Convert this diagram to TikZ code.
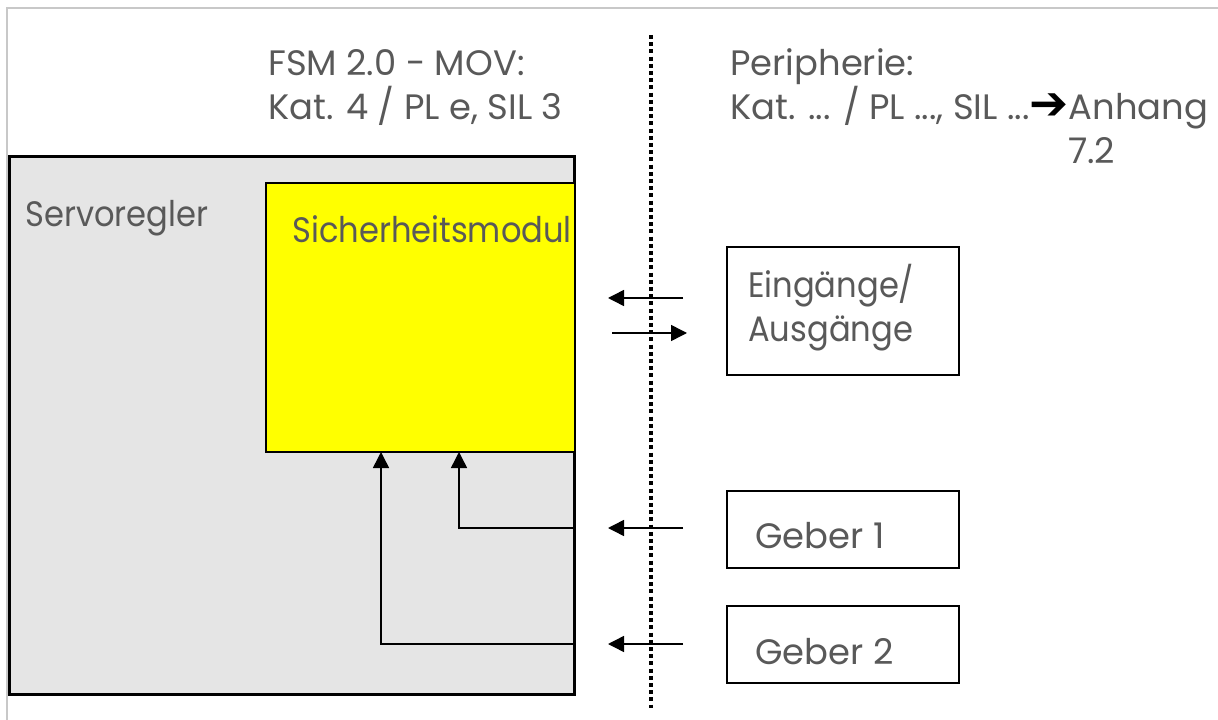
\documentclass[tikz,border=0pt]{standalone}
\usepackage{fontspec}
\setmainfont{Poppins}
\newfontfamily\narrowfont{Poppins}[FakeStretch=0.91]
\newfontfamily\symfont{DejaVu Sans}
\usetikzlibrary{arrows.meta}
\definecolor{txt}{HTML}{595959}
\definecolor{servofill}{HTML}{E5E5E5}
\definecolor{framegray}{HTML}{C8C8C8}
\definecolor{safeyellow}{HTML}{FFFF00}
\tikzset{
  lbl/.style={anchor=base west, inner sep=0pt, text=txt, font=\fontsize{26.5pt}{33pt}\selectfont},
  nlbl/.style={lbl, font=\fontsize{26.5pt}{33pt}\narrowfont},
  conn/.style={line width=1.1pt, -{Triangle[length=12pt,width=12pt]}},
  perbox/.style={draw, line width=1.5pt, fill=white},
}
\begin{document}
\begin{tikzpicture}[x=0.75pt,y=-0.75pt]
\useasboundingbox (0,0) rectangle (1218,720);
% outer frame (top and left visible)
\draw[framegray, line width=1.5pt] (6.5,720) -- (6.5,8) -- (1218,8);

% Servoregler box
\fill[servofill] (9.5,157) rectangle (574,694.5);
\draw[line width=2.25pt] (9.5,157) rectangle (574,694.5);

% Sicherheitsmodul
\fill[safeyellow] (266,183) rectangle (574,452);
\draw[line width=1.1pt] (574,183) -- (266,183) -- (266,452) -- (574,452);

\node[nlbl] (servolbl) at (25,226.5) {Servoregler};
\node[nlbl] (safelbl) at (292,243) {Sicherheitsmodul};

% titles
\node[lbl] (t1) at (268,76) {FSM 2.0 - MOV:};
\node[lbl] (t2) at (268,120) {Kat. 4 / PL e, SIL 3};
\node[lbl] (p1) at (730,76) {Peripherie:};
\node[lbl] (p2) at (730,120) {Kat. ... / PL ..., SIL ...{\color{black}\symfont\bfseries\fontsize{35pt}{33pt}\selectfont ➔}Anhang};
\node[lbl] (p3) at (1068,164) {7.2};

% dotted separator
\coordinate (sepTop) at (651,35);
\coordinate (sepBot) at (651,708);
\draw[line width=3pt, dash pattern=on 3pt off 2.4pt] (sepTop) -- (sepBot);

% peripheral boxes
\draw[perbox] (727,247) rectangle (959,375);
\node[nlbl] (io1) at (748,297.5) {Eingänge/};
\node[nlbl] (io2) at (748,341.5) {Ausgänge};
\draw[perbox] (727,491) rectangle (959,568);
\node[lbl] (g1) at (755,548) {Geber 1};
\draw[perbox] (727,606) rectangle (959,683);
\node[lbl] (g2) at (755,664) {Geber 2};

% arrows across separator
\coordinate (a1s) at (683,298); \coordinate (a1e) at (608,298);
\coordinate (a2s) at (612,333); \coordinate (a2e) at (687,333);
\coordinate (a3s) at (683,528); \coordinate (a3e) at (608,528);
\coordinate (a4s) at (683,644); \coordinate (a4e) at (608,644);
\draw[conn] (a1s) -- (a1e);
\draw[conn] (a2s) -- (a2e);
\draw[conn] (a3s) -- (a3e);
\draw[conn] (a4s) -- (a4e);

% internal wires
\coordinate (w1s) at (573,528); \coordinate (w1e) at (459,452);
\coordinate (w2s) at (573,644); \coordinate (w2e) at (381,452);
\draw[conn] (w1s) -| (w1e);
\draw[conn] (w2s) -| (w2e);
\end{tikzpicture}
\end{document}
